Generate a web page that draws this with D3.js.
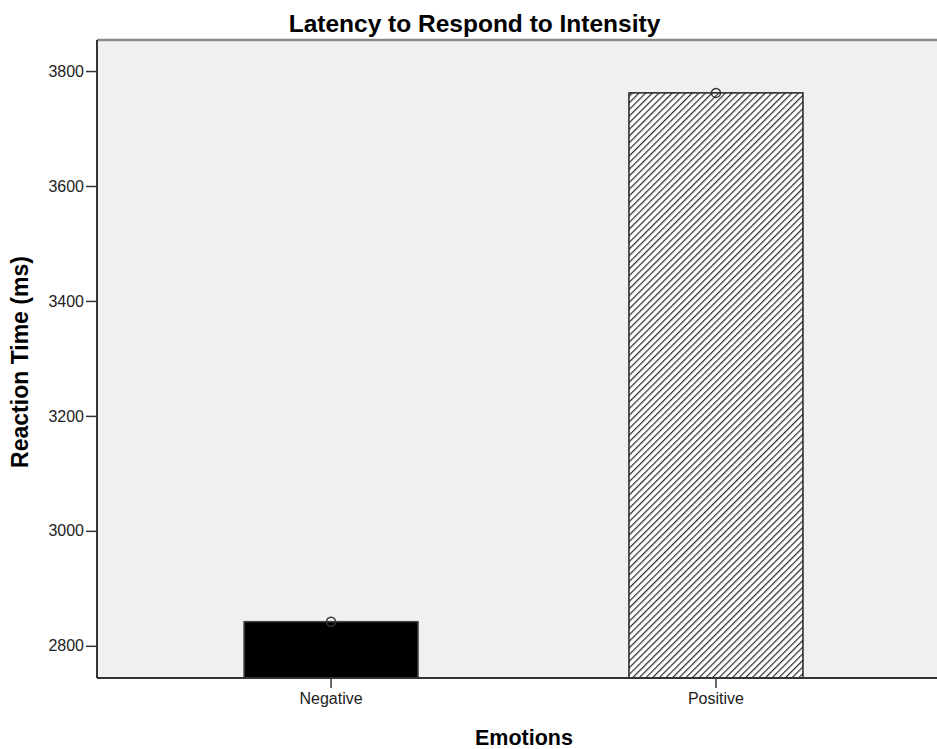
<!DOCTYPE html>
<html>
<head>
<meta charset="utf-8">
<script src="https://cdn.jsdelivr.net/npm/d3@7"></script>
<style>
  html, body { margin: 0; padding: 0; background: #fff; }
  svg { display: block; font-family: "Liberation Sans", Arial, sans-serif; }
</style>
</head>
<body>
<svg id="chart" width="937" height="749"></svg>
<script>
const categories = ["Negative", "Positive"];
const values = [2842, 3762];
const yTicks = [2800, 3000, 3200, 3400, 3600, 3800];
const yDomain = [2744, 3854];
const title = "Latency to Respond to Intensity";
const xLabel = "Emotions";
const yLabel = "Reaction Time (ms)";

const svg = d3.select("#chart");
const pLeft = 97, pTop = 40, pRight = 937, pBottom = 678;

const x = d3.scaleBand().domain(categories).range([pLeft, 950])
  .paddingInner(0.548).paddingOuter(0.382);
const y = d3.scaleLinear().domain(yDomain).range([pBottom, pTop]);

const defs = svg.append("defs");
const pat = defs.append("pattern").attr("id", "hatch")
  .attr("patternUnits", "userSpaceOnUse").attr("width", 4.7).attr("height", 4.7)
  .attr("patternTransform", "rotate(45)");
pat.append("rect").attr("width", 4.7).attr("height", 4.7).attr("fill", "#fff");
pat.append("line").attr("x1", 0).attr("y1", 0).attr("x2", 0).attr("y2", 4.7)
  .attr("stroke", "#2a2a2a").attr("stroke-width", 2.4);

// plot background
svg.append("rect").attr("x", pLeft).attr("y", pTop).attr("width", pRight - pLeft).attr("height", pBottom - pTop)
  .attr("fill", "#f0f0f0");
svg.append("line").attr("x1", pLeft).attr("x2", pRight).attr("y1", pTop).attr("y2", pTop)
  .attr("stroke", "#8a8a8a").attr("stroke-width", 2.5);

// bars
const fills = ["#000", "url(#hatch)"];
svg.selectAll("rect.bar").data(categories).enter().append("rect")
  .attr("class", "bar")
  .attr("x", d => x(d))
  .attr("width", x.bandwidth())
  .attr("y", (d, i) => y(values[i]))
  .attr("height", (d, i) => pBottom - y(values[i]))
  .attr("fill", (d, i) => fills[i])
  .attr("stroke", (d, i) => i === 0 ? "#444" : "#222")
  .attr("stroke-width", 1.5);

// markers
svg.selectAll("circle.pt").data(categories).enter().append("circle")
  .attr("class", "pt")
  .attr("cx", d => x(d) + x.bandwidth() / 2)
  .attr("cy", (d, i) => y(values[i]))
  .attr("r", 4.5)
  .attr("fill", "none")
  .attr("stroke", "#333")
  .attr("stroke-width", 1.5);

// y axis
const yAxis = svg.append("g").attr("transform", `translate(${pLeft},0)`)
  .call(d3.axisLeft(y).tickValues(yTicks).tickSize(11).tickPadding(2).tickFormat(d3.format("d")));
yAxis.select(".domain").remove();
yAxis.selectAll(".tick line").attr("stroke", "#333").attr("stroke-width", 1.5);
yAxis.selectAll(".tick text").attr("font-size", 16).attr("fill", "#222")
  .attr("font-family", "'Liberation Sans', Arial, sans-serif");
svg.append("line").attr("x1", pLeft).attr("x2", pLeft).attr("y1", pTop).attr("y2", pBottom)
  .attr("stroke", "#333").attr("stroke-width", 2);

// x axis
const xAxis = svg.append("g").attr("transform", `translate(0,${pBottom})`)
  .call(d3.axisBottom(x).tickSize(10).tickPadding(5));
xAxis.select(".domain").remove();
xAxis.selectAll(".tick line").attr("stroke", "#333").attr("stroke-width", 1.5);
xAxis.selectAll(".tick text").attr("font-size", 16).attr("fill", "#222")
  .attr("font-family", "'Liberation Sans', Arial, sans-serif");
svg.append("line").attr("x1", pLeft).attr("x2", pRight).attr("y1", pBottom).attr("y2", pBottom)
  .attr("stroke", "#333").attr("stroke-width", 2);

// titles
svg.append("text").attr("x", 474.5).attr("y", 32).attr("text-anchor", "middle")
  .attr("font-size", 24.5).attr("font-weight", "bold").attr("fill", "#000").text(title);
svg.append("text").attr("x", 524).attr("y", 745).attr("text-anchor", "middle")
  .attr("font-size", 21.5).attr("font-weight", "bold").attr("fill", "#000").text(xLabel);
svg.append("text").attr("transform", "translate(28,362) rotate(-90)").attr("text-anchor", "middle")
  .attr("font-size", 23).attr("font-weight", "bold").attr("fill", "#000").text(yLabel);
</script>
</body>
</html>
